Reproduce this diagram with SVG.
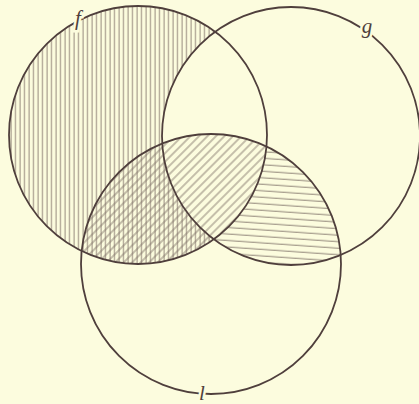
<svg xmlns="http://www.w3.org/2000/svg" width="419" height="404" viewBox="0 0 419 404">
<style>
.ring{fill:none;stroke:#4f3f3c;stroke-width:1.8}
.lbl{font-family:"Liberation Serif","DejaVu Serif",serif;font-style:italic;font-size:21px;fill:#4f3f3c;stroke:#fcfcde;stroke-width:5;paint-order:stroke;text-anchor:middle}
.h{stroke:#7a6b63;stroke-width:0.85}
</style>
<defs>
<pattern id="pv" width="4.5" height="10" patternUnits="userSpaceOnUse"><line class="h" x1="2" y1="0" x2="2" y2="10"/></pattern>
<pattern id="pd" width="6" height="6" patternUnits="userSpaceOnUse" patternTransform="rotate(-45)"><line class="h" x1="0" y1="3" x2="6" y2="3"/></pattern>
<pattern id="ph" width="10" height="6.5" patternUnits="userSpaceOnUse" patternTransform="rotate(4)"><line class="h" x1="0" y1="3" x2="10" y2="3"/></pattern>
<clipPath id="cf"><circle cx="138" cy="135" r="129"/></clipPath>
<clipPath id="cl"><circle cx="211" cy="264" r="130"/></clipPath>
<mask id="mfg"><rect width="419" height="404" fill="#000"/><circle cx="138" cy="135" r="129" fill="#fff"/><circle cx="291" cy="136" r="129" fill="#000"/></mask>
<mask id="mgl"><rect width="419" height="404" fill="#000"/><circle cx="291" cy="136" r="129" fill="#fff"/><circle cx="138" cy="135" r="129" fill="#000"/></mask>
</defs>
<rect width="419" height="404" fill="#fcfcde"/>
<g id="hatching">
<rect width="419" height="404" fill="url(#pv)" mask="url(#mfg)"/>
<g clip-path="url(#cf)"><rect width="419" height="404" fill="url(#pd)" clip-path="url(#cl)"/></g>
<g clip-path="url(#cl)"><rect width="419" height="404" fill="url(#ph)" mask="url(#mgl)"/></g>
</g>
<g id="node-f"><circle class="ring" cx="138" cy="135" r="129"/><text class="lbl" x="78" y="25">f</text></g>
<g id="node-g"><circle class="ring" cx="291" cy="136" r="129"/><text class="lbl" x="367" y="33">g</text></g>
<g id="node-l"><circle class="ring" cx="211" cy="264" r="130"/><text class="lbl" x="202" y="400">l</text></g>
<g id="connectors"/>
</svg>
